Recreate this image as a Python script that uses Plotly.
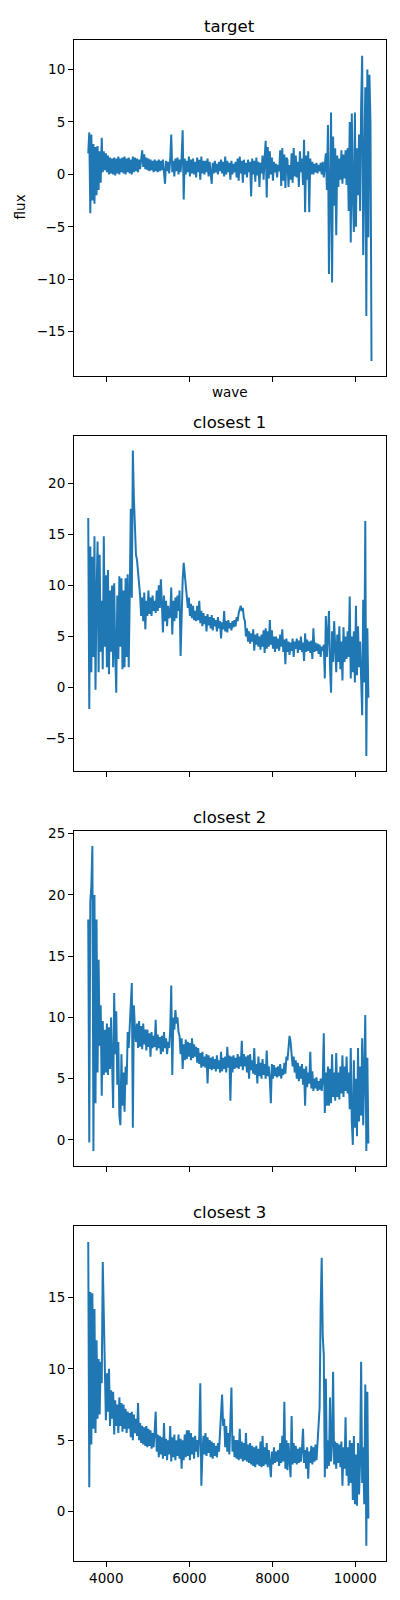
import plotly.graph_objects as go

# ---------------- data ----------------
wave = [
    3565, 3590, 3615, 3640, 3665, 3690, 3715, 3740, 3765, 3790,
    3815, 3840, 3865, 3890, 3915, 3940, 3965, 3990, 4015, 4040,
    4065, 4090, 4115, 4140, 4165, 4190, 4215, 4240, 4265, 4290,
    4315, 4340, 4365, 4390, 4415, 4440, 4465, 4490, 4515, 4540,
    4565, 4590, 4615, 4640, 4665, 4690, 4715, 4740, 4765, 4790,
    4815, 4840, 4865, 4890, 4915, 4940, 4965, 4990, 5015, 5040,
    5065, 5090, 5115, 5140, 5165, 5190, 5215, 5240, 5265, 5290,
    5315, 5340, 5365, 5390, 5415, 5440, 5465, 5490, 5515, 5540,
    5565, 5590, 5615, 5640, 5665, 5690, 5715, 5740, 5765, 5790,
    5815, 5840, 5865, 5890, 5915, 5940, 5965, 5990, 6015, 6040,
    6065, 6090, 6115, 6140, 6165, 6190, 6215, 6240, 6265, 6290,
    6315, 6340, 6365, 6390, 6415, 6440, 6465, 6490, 6515, 6540,
    6565, 6590, 6615, 6640, 6665, 6690, 6715, 6740, 6765, 6790,
    6815, 6840, 6865, 6890, 6915, 6940, 6965, 6990, 7015, 7040,
    7065, 7090, 7115, 7140, 7165, 7190, 7215, 7240, 7265, 7290,
    7315, 7340, 7365, 7390, 7415, 7440, 7465, 7490, 7515, 7540,
    7565, 7590, 7615, 7640, 7665, 7690, 7715, 7740, 7765, 7790,
    7815, 7840, 7865, 7890, 7915, 7940, 7965, 7990, 8015, 8040,
    8065, 8090, 8115, 8140, 8165, 8190, 8215, 8240, 8265, 8290,
    8315, 8340, 8365, 8390, 8415, 8440, 8465, 8490, 8515, 8540,
    8565, 8590, 8615, 8640, 8665, 8690, 8715, 8740, 8765, 8790,
    8815, 8840, 8865, 8890, 8915, 8940, 8965, 8990, 9015, 9040,
    9065, 9090, 9115, 9140, 9165, 9190, 9215, 9240, 9265, 9290,
    9315, 9340, 9365, 9390, 9415, 9440, 9465, 9490, 9515, 9540,
    9565, 9590, 9615, 9640, 9665, 9690, 9715, 9740, 9765, 9790,
    9815, 9840, 9865, 9890, 9915, 9940, 9965, 9990, 10015, 10040,
    10065, 10090, 10115, 10140, 10165, 10190, 10215, 10240, 10265, 10290,
    10315, 10340, 10365, 10390,
]

flux_target = [
    2.0, 4.0, -3.7, 3.8, -2.5, 2.9, -2.8, 2.6,
    -2.0, 2.7, -1.5, 2.2, -0.8, 3.5, 0.2, 2.2,
    0.4, 2.0, 0.2, 1.8, 0.0, 1.6, 0.1, 1.5,
    0.0, 1.6, -0.1, 1.5, 0.1, 1.7, 0.0, 1.5,
    0.2, 1.6, 0.1, 1.7, 0.0, 1.5, 0.2, 1.6,
    0.1, 1.4, 0.0, 1.7, 0.2, 1.6, 0.3, 1.5,
    0.2, 1.4, 0.5, 1.8, 2.3, 0.7, 1.9, 0.5,
    1.6, 0.4, 1.5, 0.3, 1.4, 0.4, 1.3, 0.2,
    1.4, 0.3, 1.3, 0.2, 1.4, 0.3, 1.3, 0.4,
    1.4, 0.2, -0.9, 1.3, 0.3, 1.2, 0.1, 1.4,
    3.8, 0.2, 1.3, -0.2, 1.5, 0.3, 1.6, 0.0,
    1.4, 0.2, 1.6, 4.2, -2.4, 1.5, 0.0, 1.3,
    0.2, 1.7, -0.2, 1.4, 0.1, 1.5, 0.0, 1.2,
    -0.3, 1.6, 0.2, 1.4, -0.5, 1.7, 0.1, 1.3,
    0.0, 1.3, 0.2, 1.5, -0.2, 1.2, 0.1, -0.9,
    1.1, 0.1, 1.3, 0.2, 1.0, 0.0, 1.2, 0.3,
    1.4, 0.1, 1.2, -0.2, 1.7, 0.0, 1.3, 0.2,
    1.1, -0.5, 1.3, 0.0, 1.0, 0.2, 1.2, -0.3,
    1.5, -0.6, 1.7, 0.1, 1.3, -0.8, 1.4, 0.0,
    1.1, -0.3, 1.4, 0.2, 1.2, -2.1, 1.5, 0.0,
    1.3, -0.7, 1.6, -0.1, 1.2, -1.2, 1.1, 0.1,
    1.8, -0.5, 1.5, 3.2, -2.2, 2.6, -0.4, 2.2,
    0.0, 1.6, -0.6, 1.2, 0.2, 1.0, -0.3, 0.9,
    0.3, 2.3, -1.1, 2.5, -0.6, 1.9, -1.3, 1.6,
    1.4, -1.2, 0.9, -0.5, 2.0, -0.8, 2.5, -0.2,
    1.8, -0.3, 1.2, -1.2, 2.2, 0.2, 1.5, -1.0,
    3.3, -3.6, 1.8, -0.5, 2.2, -3.6, 1.5, 0.0,
    1.2, 0.0, 1.0, 0.2, 1.1, 0.1, 0.9, 0.3,
    1.1, 0.0, 1.2, -0.3, 0.9, 2.0, -1.5, 4.7,
    -9.5, 2.5, 5.9, -10.3, 3.6, -3.0, 2.5, -5.8,
    1.8, -1.2, 1.5, -0.5, 2.3, -0.9, 1.9, -0.4,
    2.3, -1.0, 2.5, -3.5, 5.0, -6.5, 5.8, -2.0,
    -5.5, 5.9, -5.0, 2.5, -2.0, 3.8, -3.5, 6.5,
    11.3, -7.7, 4.0, 8.3, -13.5, 10.0, -6.0, 9.5, 5.0, -17.8,
]

flux_closest1 = [
    16.6, -2.1, 13.8, 1.5, 12.8, 3.0, 14.8, -0.2,
    9.0, 14.3, 1.5, 13.0, 3.5, 8.5, 1.8, 14.8,
    4.0, 11.0, 2.0, 11.5, 1.3, 9.5, 3.5, 10.0,
    2.0, 10.2, 3.5, -0.5, 9.0, 2.8, 10.9, 4.0,
    10.7, 1.8, 9.5, 2.0, 10.7, 3.0, 11.1, 2.0,
    9.0, 17.5, 8.8, 23.2, 18.5, 16.0, 13.0, 12.5,
    11.5, 10.5, 9.0, 7.0, 8.8, 6.5, 9.3, 5.7,
    8.5, 7.0, 9.5, 7.2, 8.8, 7.0, 9.0, 7.5,
    8.5, 7.3, 9.5, 7.5, 10.0, 7.8, 10.6, 8.2,
    5.4, 9.0, 6.5, 8.5, 6.0, 8.0, 6.8, 7.0,
    9.8, 5.2, 8.5, 6.5, 8.8, 6.8, 9.0, 7.5,
    9.5, 3.1, 8.5, 10.5, 12.2, 11.0, 9.5, 8.5,
    7.8, 8.8, 7.0, 8.2, 6.8, 8.0, 6.6, 7.5,
    6.5, 8.0, 6.6, 8.5, 6.3, 7.5, 6.0, 7.3,
    6.2, 7.0, 5.5, 7.2, 6.1, 6.9, 5.8, 7.1,
    5.6, 6.8, 6.0, 6.6, 5.5, 6.9, 5.8, 6.5,
    4.8, 6.4, 5.7, 7.5, 5.5, 6.5, 5.4, 6.6,
    5.8, 6.3, 5.6, 6.5, 5.9, 6.6, 6.0, 6.9,
    6.5, 7.3, 7.8, 8.0, 7.5, 7.8, 6.8, 6.5,
    5.0, 5.8, 4.5, 5.5, 4.3, 5.3, 4.5, 5.7,
    3.6, 5.2, 4.2, 5.3, 4.0, 5.0, 3.7, 5.2,
    4.0, 5.6, 3.4, 5.8, 3.8, 5.5, 4.0, 6.6,
    4.2, 5.6, 3.8, 5.0, 3.5, 5.0, 3.8, 4.8,
    3.6, 5.2, 4.0, 5.7, 3.5, 4.7, 2.3, 4.8,
    3.5, 4.5, 3.2, 4.4, 3.6, 4.8, 3.0, 4.5,
    3.8, 4.8, 3.4, 4.6, 3.7, 5.0, 3.5, 4.4,
    2.6, 5.3, 3.5, 4.7, 3.6, 4.5, 3.4, 4.6,
    2.8, 5.8, 3.5, 4.4, 3.6, 4.3, 3.3, 4.2,
    3.0, 4.0, 3.6, 4.2, 0.9, 7.0, 3.0, 5.0,
    7.5, 2.0, -0.5, 5.5, 2.5, 6.5, 3.0, 1.5,
    5.2, 2.5, 6.0, 1.8, 4.5, 0.7, 5.9, 2.5,
    5.0, 2.8, 5.5, 3.0, 8.9, 0.9, 5.0, 1.5,
    5.5, 0.5, 8.0, 1.2, 6.0, 2.0, 4.5, 0.8,
    -2.7, 8.6, 0.5, 16.3, -6.7, 5.8, -1.0, None, None, None,
]

flux_closest2 = [
    18.0, -0.2, 19.5, 20.7, 24.0, -0.9, 20.0, 3.0,
    18.0, 5.5, 14.7, 7.7, 11.0, 3.6, 9.7, 5.3,
    9.0, 5.5, 9.5, 5.3, 9.2, 5.8, 10.0, 6.0,
    2.6, 12.0, 7.0, 10.5, 4.5, 8.0, 2.0, 1.2,
    7.0, 2.8, 5.5, 2.3, 6.0, 4.5, 8.8, 7.5,
    9.5, 12.0, 12.8, 1.0, 11.0, 9.0, 8.0, 9.5,
    7.5, 9.7, 7.6, 9.3, 7.4, 9.5, 7.8, 9.0,
    7.3, 9.0, 7.6, 8.7, 6.8, 8.8, 7.5, 8.5,
    7.6, 9.8, 7.3, 8.6, 7.5, 8.4, 7.0, 8.5,
    7.2, 8.8, 7.5, 8.3, 7.0, 8.0, 7.5, 9.0,
    12.6, 5.3, 10.0, 9.0, 10.6, 9.5, 10.0, 8.8,
    8.5, 7.0, 8.3, 5.8, 7.8, 6.5, 8.2, 6.6,
    8.0, 6.8, 7.9, 6.5, 8.3, 6.7, 7.8, 6.8,
    7.6, 6.3, 7.5, 6.2, 7.1, 5.9, 7.2, 6.0,
    6.8, 5.9, 7.0, 4.6, 6.9, 5.8, 6.7, 5.7,
    6.8, 5.8, 6.6, 5.6, 6.9, 5.8, 6.5, 5.5,
    7.2, 5.6, 6.7, 5.8, 6.8, 5.5, 7.6, 5.9,
    6.9, 3.2, 6.8, 5.5, 6.9, 5.8, 6.7, 5.9,
    7.0, 5.8, 6.8, 6.0, 8.1, 5.7, 7.0, 6.0,
    6.8, 5.5, 6.9, 5.0, 7.0, 5.7, 6.5, 5.4,
    7.5, 5.3, 6.2, 4.6, 6.8, 5.2, 6.3, 5.0,
    6.6, 5.3, 6.2, 5.0, 7.3, 5.2, 6.0, 4.9,
    3.0, 6.2, 5.0, 6.1, 5.2, 5.9, 5.1, 6.0,
    5.2, 6.2, 5.0, 5.8, 5.3, 6.3, 5.4, 6.8,
    6.5, 7.5, 8.5, 8.0, 7.0, 6.0, 6.8, 5.5,
    6.5, 5.0, 6.3, 4.8, 6.0, 5.0, 6.2, 4.5,
    5.8, 2.8, 6.0, 4.3, 5.5, 4.6, 7.2, 4.2,
    5.6, 4.0, 5.0, 4.2, 5.1, 4.0, 4.8, 4.1,
    5.0, 4.0, 4.9, 8.7, 2.2, 5.5, 2.8, 6.0,
    2.8, 5.8, 3.0, 7.0, 3.5, 5.5, 3.2, 7.1,
    3.5, 5.5, 3.3, 6.0, 3.8, 6.9, 3.5, 6.0,
    4.0, 6.8, 3.8, 5.5, 2.5, 7.5, 1.5, -0.4,
    6.5, 1.0, 5.0, 0.3, 7.5, 1.5, 6.0, 2.0,
    8.3, 1.2, 5.5, 10.2, -0.9, 6.7, -0.3, None, None, None,
]

flux_closest3 = [
    18.9, 1.7, 15.4, 4.7, 15.3, 5.8, 14.2, 5.5,
    12.0, 6.5, 10.7, 6.8, 10.5, 9.0, 17.5, 14.5,
    10.0, 6.4, 9.7, 7.0, 10.0, 6.0, 8.5, 6.5,
    8.4, 5.4, 7.8, 6.0, 7.5, 5.5, 8.0, 6.0,
    7.6, 5.6, 7.5, 5.8, 7.2, 5.5, 7.0, 5.8,
    6.9, 5.2, 7.0, 5.0, 6.8, 5.5, 6.5, 5.3,
    7.6, 5.0, 6.2, 4.8, 6.0, 4.7, 5.9, 4.6,
    6.0, 4.5, 5.8, 4.6, 5.7, 4.4, 5.5, 4.5,
    5.6, 7.0, 4.2, 5.4, 3.8, 5.3, 4.0, 5.2,
    3.7, 6.2, 3.9, 5.1, 3.6, 5.0, 4.0, 6.0,
    3.5, 5.2, 3.8, 5.4, 3.6, 5.0, 3.9, 5.4,
    3.7, 5.1, 3.0, 5.0, 3.6, 5.4, 3.8, 5.7,
    3.9, 5.7, 3.6, 5.5, 4.0, 5.2, 3.7, 5.3,
    4.2, 5.0, 3.8, 5.3, 9.0, 1.8, 4.0, 5.3,
    4.0, 5.5, 3.9, 5.2, 4.1, 5.0, 3.8, 4.9,
    3.7, 4.8, 3.9, 4.6, 3.8, 4.8, 4.2, 5.5,
    6.5, 8.2, 6.0, 6.5, 4.5, 6.0, 4.2, 5.5,
    4.0, 6.2, 8.7, 4.2, 5.3, 3.8, 5.0, 3.7,
    5.0, 3.6, 5.8, 3.7, 4.9, 3.5, 4.8, 3.6,
    5.5, 3.5, 4.7, 3.4, 4.8, 3.3, 4.6, 3.2,
    4.5, 3.1, 4.6, 3.3, 4.4, 3.2, 4.9, 3.1,
    5.3, 3.2, 4.5, 3.3, 4.8, 3.1, 4.3, 3.4,
    2.4, 4.2, 3.3, 4.5, 3.4, 4.2, 3.5, 4.3,
    3.2, 4.8, 3.4, 5.3, 3.5, 7.7, 3.0, 5.0,
    2.9, 4.8, 3.2, 2.4, 6.7, 3.3, 4.8, 3.4,
    4.6, 3.3, 4.4, 3.4, 4.5, 3.5, 4.4, 5.8,
    3.4, 4.3, 3.0, 4.5, 2.3, 4.2, 3.4, 4.6,
    3.3, 4.5, 3.5, 4.7, 3.6, 4.8, 5.5, 7.3,
    14.3, 17.8, 12.3, 11.0, 2.4, 9.3, 3.0, 5.0,
    3.2, 8.0, 3.5, 4.8, 9.8, 3.3, 4.9, 3.0,
    4.8, 3.4, 4.7, 3.1, 4.9, 1.8, 4.5, 3.0,
    6.6, 2.5, 4.5, 1.8, 5.0, 2.0, 4.8, 0.8,
    5.3, 0.5, 4.0, 0.4, 4.8, 1.2, 3.5, 10.5,
    2.0, 4.5, 0.5, 8.9, -2.4, 8.4, -0.5, None, None, None,
]

panel_titles = ["target", "closest 1", "closest 2", "closest 3"]
x_tick_values = [4000, 6000, 8000, 10000]
y_tick_values = [
    [-15, -10, -5, 0, 5, 10],
    [-5, 0, 5, 10, 15, 20],
    [0, 5, 10, 15, 20, 25],
    [0, 5, 10, 15],
]
x_title = "wave"
y_title = "flux"

# ---------------- layout geometry ----------------
# The page body has an 8px default margin, so the figure is placed at (8, 8)
# and every page-pixel position below is shifted by that offset.
OFF = 8.0
W, H = 400 - 2 * OFF, 1600 - 2 * OFF
ax_left, ax_right = 74.0 - OFF, 385.7 - OFF
panel_px = [(35.0, 372.3), (432.3, 768.3), (828.3, 1164.8), (1225.0, 1561.0)]
panel_px = [(t - OFF, b - OFF) for t, b in panel_px]
y_ranges = [[-19.24, 12.82], [-8.15, 24.62], [-2.14, 25.24], [-3.48, 20.01]]
x_range = [3222, 10732]

FONT = "DejaVu Sans"
LINE_COLOR = "#1f77b4"

series = [flux_target, flux_closest1, flux_closest2, flux_closest3]

fig = go.Figure()
for k, ys in enumerate(series):
    sfx = "" if k == 0 else str(k + 1)
    fig.add_trace(go.Scatter(
        x=wave, y=ys, mode="lines",
        line=dict(color=LINE_COLOR, width=2),
        xaxis="x" + sfx, yaxis="y" + sfx,
        showlegend=False, connectgaps=False,
    ))

layout = dict(
    width=W, height=H,
    margin=dict(l=0, r=0, t=0, b=0),
    paper_bgcolor="white", plot_bgcolor="white",
    font=dict(family=FONT, size=13, color="black"),
    showlegend=False,
)

annotations = []
for k in range(4):
    sfx = "" if k == 0 else str(k + 1)
    top, bot = panel_px[k]
    dom_y = [1 - bot / H, 1 - top / H]
    common = dict(
        showline=True, mirror=True, linecolor="black", linewidth=1,
        ticks="outside", ticklen=5, tickwidth=1, tickcolor="black",
        showgrid=False, zeroline=False,
        tickfont=dict(family=FONT, size=13.5, color="black"),
    )
    layout["xaxis" + sfx] = dict(
        domain=[ax_left / W, ax_right / W], anchor="y" + sfx,
        range=x_range, tickmode="array", tickvals=x_tick_values,
        ticktext=[str(v) for v in x_tick_values],
        showticklabels=(k == 3), **common,
    )
    layout["yaxis" + sfx] = dict(
        domain=dom_y, anchor="x" + sfx,
        range=y_ranges[k], tickmode="array", tickvals=y_tick_values[k],
        ticktext=[("\u2212" + str(-v)) if v < 0 else str(v) for v in y_tick_values[k]],
        **common,
    )
    annotations.append(dict(
        text=panel_titles[k], xref="paper", yref="paper",
        x=(ax_left + ax_right) / 2 / W, y=1 - (top - 13.5) / H,
        xanchor="center", yanchor="middle", showarrow=False,
        font=dict(family=FONT, size=16.5, color="black"),
    ))

annotations.append(dict(
    text=x_title, xref="paper", yref="paper",
    x=(ax_left + ax_right) / 2 / W, y=1 - (388 - OFF) / H,
    xanchor="center", yanchor="middle", showarrow=False,
    font=dict(family=FONT, size=13.5, color="black"),
))
annotations.append(dict(
    text=y_title, xref="paper", yref="paper",
    x=(20 - OFF) / W, y=1 - (203 - OFF) / H, textangle=-90,
    xanchor="center", yanchor="middle", showarrow=False,
    font=dict(family=FONT, size=13.5, color="black"),
))
layout["annotations"] = annotations

fig.update_layout(**layout)
fig.write_html("out.html")
